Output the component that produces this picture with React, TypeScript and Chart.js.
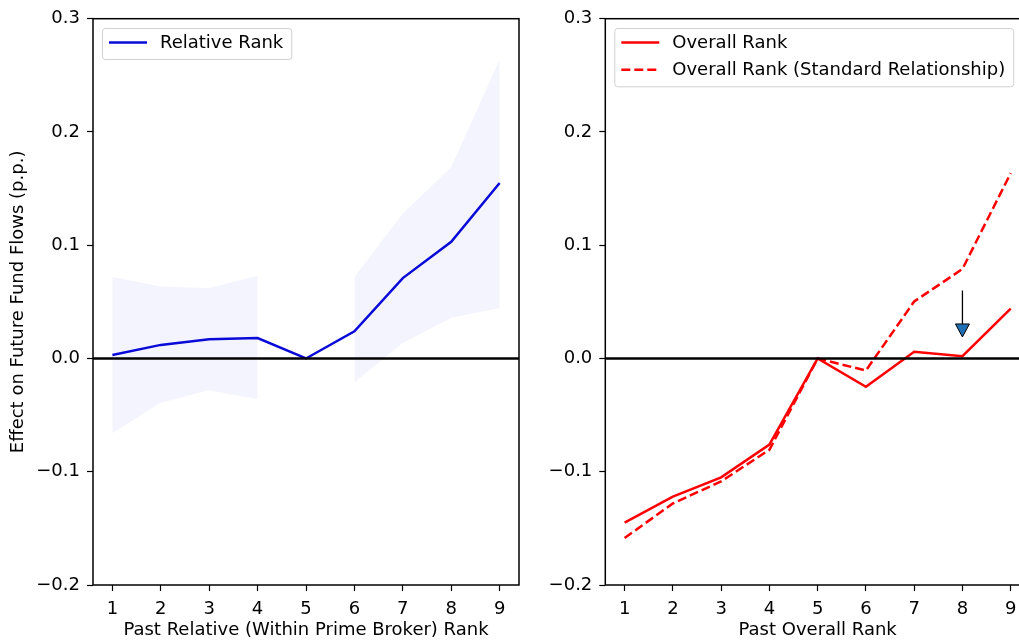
import React, { useEffect, useRef } from "react";
import { Chart, registerables } from "chart.js";
Chart.register(...registerables);

// ---------- data ----------
const ranks = [1, 2, 3, 4, 5, 6, 7, 8, 9];
const relativeRank = [0.003, 0.012, 0.017, 0.018, 0.0, 0.024, 0.071, 0.103, 0.155];
const bandRanksA = [1, 2, 3, 4];
const bandUpperA = [0.072, 0.0636, 0.062, 0.073];
const bandLowerA = [-0.066, -0.039, -0.028, -0.036];
const bandRanksB = [6, 7, 8, 9];
const bandUpperB = [0.072, 0.128, 0.169, 0.264];
const bandLowerB = [-0.021, 0.0136, 0.036, 0.0445];
const overallRank = [-0.145, -0.122, -0.105, -0.076, 0.0, -0.025, 0.006, 0.002, 0.044];
const overallRankStd = [-0.1585, -0.128, -0.1085, -0.0806, 0.0, -0.0106, 0.0503, 0.079, 0.1636];
const yTicks = [-0.2, -0.1, 0.0, 0.1, 0.2, 0.3];
const arrowRank = 8;
const arrowFrom = 0.06;
const arrowTo = 0.019;

const FONT = "'DejaVu Sans', sans-serif";
const FS = 18;

const pts = (xs: number[], ys: number[]) => xs.map((x, i) => ({ x, y: ys[i] }));

const fmtY = (v: number) => {
  const s = Math.abs(v) < 1e-9 ? "0.0" : v.toFixed(1);
  return s.replace("-", "\u2212");
};

// ---------- plugins ----------
const framePlugin = {
  id: "frame",
  afterDraw(chart: any) {
    const { ctx, chartArea: a } = chart;
    ctx.save();
    ctx.strokeStyle = "#000";
    ctx.lineWidth = 1.5;
    ctx.strokeRect(a.left, a.top, a.right - a.left, a.bottom - a.top);
    ctx.restore();
  },
};

const zeroLinePlugin = {
  id: "zeroLine",
  afterDatasetsDraw(chart: any) {
    const { ctx, chartArea: a, scales } = chart;
    const y = scales.y.getPixelForValue(0);
    ctx.save();
    ctx.strokeStyle = "#000";
    ctx.lineWidth = 2.4;
    ctx.beginPath();
    ctx.moveTo(a.left, y);
    ctx.lineTo(a.right, y);
    ctx.stroke();
    ctx.restore();
  },
};

const makeLegendPlugin = (indices: number[]) => ({
  id: "customLegend",
  afterDraw(chart: any) {
    const { ctx, chartArea: a } = chart;
    const items = indices.map((i) => chart.data.datasets[i]);
    ctx.save();
    ctx.font = `${FS}px ${FONT}`;
    const maxText = Math.max(...items.map((d: any) => ctx.measureText(d.label).width));
    const bx = a.left + 9;
    const by = a.top + 9.3;
    const rowH = 27.3;
    const bw = 7 + 38 + 13 + maxText + 8;
    const bh = 31 + (items.length - 1) * rowH;
    ctx.beginPath();
    ctx.roundRect(bx + 0.5, by + 0.5, bw, bh, 3);
    ctx.fillStyle = "rgba(255,255,255,0.85)";
    ctx.fill();
    ctx.strokeStyle = "#d0d0d0";
    ctx.lineWidth = 1;
    ctx.stroke();
    items.forEach((d: any, i: number) => {
      const cy = by + 14.5 + i * rowH;
      ctx.beginPath();
      ctx.setLineDash(d.borderDash || []);
      ctx.strokeStyle = d.borderColor;
      ctx.lineWidth = d.borderWidth;
      ctx.moveTo(bx + 7, cy);
      ctx.lineTo(bx + 45, cy);
      ctx.stroke();
      ctx.setLineDash([]);
      ctx.fillStyle = "#000";
      ctx.textBaseline = "middle";
      ctx.textAlign = "left";
      ctx.fillText(d.label, bx + 58, cy + 1);
    });
    ctx.restore();
  },
});

const arrowPlugin = {
  id: "arrow",
  afterDatasetsDraw(chart: any) {
    const { ctx, scales } = chart;
    const x = scales.x.getPixelForValue(arrowRank);
    const y0 = scales.y.getPixelForValue(arrowFrom);
    const y1 = scales.y.getPixelForValue(arrowTo);
    const headH = 13;
    const headW = 14;
    ctx.save();
    ctx.strokeStyle = "#000";
    ctx.lineWidth = 1.3;
    ctx.beginPath();
    ctx.moveTo(x, y0);
    ctx.lineTo(x, y1 - headH);
    ctx.stroke();
    ctx.beginPath();
    ctx.moveTo(x - headW / 2, y1 - headH);
    ctx.lineTo(x + headW / 2, y1 - headH);
    ctx.lineTo(x, y1);
    ctx.closePath();
    ctx.fillStyle = "#1f6fb4";
    ctx.fill();
    ctx.lineWidth = 1;
    ctx.stroke();
    ctx.restore();
  },
};

// ---------- scales ----------
const xScale = (title: string) => ({
  type: "linear",
  min: 0.6,
  max: 9.4,
  afterBuildTicks: (s: any) => {
    s.ticks = ranks.map((v) => ({ value: v }));
  },
  afterFit: (s: any) => {
    s.height = 56;
  },
  ticks: {
    color: "#000",
    font: { family: FONT, size: FS },
    padding: 8,
    maxRotation: 0,
    autoSkip: false,
    callback: (v: any) => String(v),
  },
  grid: { drawOnChartArea: false, drawTicks: true, tickLength: 6, tickColor: "#000", tickWidth: 1.2 },
  border: { display: false },
  title: { display: true, text: title, color: "#000", font: { family: FONT, size: FS }, padding: { top: 0, bottom: 0 } },
});

const yScale = (width: number, title?: string) => ({
  type: "linear",
  min: -0.2,
  max: 0.3,
  afterBuildTicks: (s: any) => {
    s.ticks = yTicks.map((v) => ({ value: v }));
  },
  afterFit: (s: any) => {
    s.width = width;
  },
  ticks: {
    color: "#000",
    font: { family: FONT, size: FS },
    padding: 7,
    callback: (v: any) => fmtY(Number(v)),
  },
  grid: { drawOnChartArea: false, drawTicks: true, tickLength: 6, tickColor: "#000", tickWidth: 1.2 },
  border: { display: false },
  title: title
    ? { display: true, text: title, color: "#000", font: { family: FONT, size: FS }, padding: { top: 8, bottom: 0 } }
    : { display: false },
});

const baseOptions = (padRight: number) => ({
  responsive: false,
  animation: false,
  layout: { padding: { left: 0, top: 18.7, right: padRight, bottom: 0 } },
  plugins: {
    legend: { display: false },
    tooltip: { enabled: false },
    filler: { drawTime: "beforeDatasetsDraw" },
  },
  elements: { point: { radius: 0 }, line: { tension: 0 } },
});

const leftConfig = (): any => ({
  type: "line",
  data: {
    datasets: [
      { label: "Relative Rank", data: pts(ranks, relativeRank), borderColor: "#0a0ad8", borderWidth: 2.5, fill: false },
      { label: "lowA", data: pts(bandRanksA, bandLowerA), borderWidth: 0, borderColor: "rgba(0,0,0,0)", fill: false },
      { label: "upA", data: pts(bandRanksA, bandUpperA), borderWidth: 0, borderColor: "rgba(0,0,0,0)", fill: "-1", backgroundColor: "rgba(60,60,230,0.06)" },
      { label: "lowB", data: pts(bandRanksB, bandLowerB), borderWidth: 0, borderColor: "rgba(0,0,0,0)", fill: false },
      { label: "upB", data: pts(bandRanksB, bandUpperB), borderWidth: 0, borderColor: "rgba(0,0,0,0)", fill: "-1", backgroundColor: "rgba(60,60,230,0.06)" },
    ],
  },
  options: {
    ...baseOptions(11),
    scales: {
      x: xScale("Past Relative (Within Prime Broker) Rank"),
      y: yScale(93, "Effect on Future Fund Flows (p.p.)"),
    },
  },
  plugins: [zeroLinePlugin, framePlugin, makeLegendPlugin([0])],
});

const rightConfig = (): any => ({
  type: "line",
  data: {
    datasets: [
      { label: "Overall Rank", data: pts(ranks, overallRank), borderColor: "#ff0000", borderWidth: 2.5, fill: false },
      { label: "Overall Rank (Standard Relationship)", data: pts(ranks, overallRankStd), borderColor: "#ff0000", borderWidth: 2.5, borderDash: [9, 4], fill: false },
    ],
  },
  options: {
    ...baseOptions(10),
    scales: {
      x: xScale("Past Overall Rank"),
      y: yScale(75.3),
    },
  },
  plugins: [zeroLinePlugin, arrowPlugin, framePlugin, makeLegendPlugin([0, 1])],
});

export default function App() {
  const leftRef = useRef<HTMLCanvasElement>(null);
  const rightRef = useRef<HTMLCanvasElement>(null);
  useEffect(() => {
    const c1 = new Chart(leftRef.current as HTMLCanvasElement, leftConfig());
    const c2 = new Chart(rightRef.current as HTMLCanvasElement, rightConfig());
    return () => {
      c1.destroy();
      c2.destroy();
    };
  }, []);
  return (
    <div style={{ position: "fixed", left: 0, top: 0, width: 1019, height: 641, overflow: "hidden", background: "#fff" }}>
      <canvas ref={leftRef} width={530} height={641} style={{ position: "absolute", left: 0, top: 0, width: 530, height: 641 }} />
      <canvas ref={rightRef} width={510} height={641} style={{ position: "absolute", left: 530, top: 0, width: 510, height: 641 }} />
    </div>
  );
}
